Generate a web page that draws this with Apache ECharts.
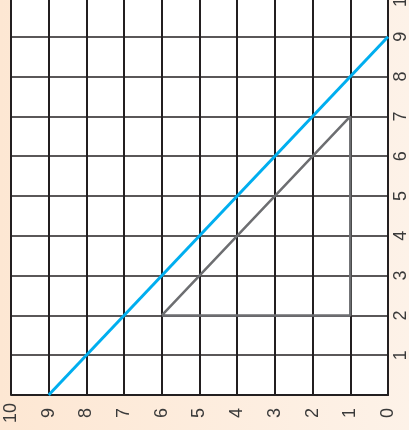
<!DOCTYPE html>
<html>
<head>
<meta charset="utf-8">
<script src="https://cdn.jsdelivr.net/npm/echarts@6/dist/echarts.min.js"></script>
<style>
html,body{margin:0;padding:0;}
#c{width:409px;height:430px;}
</style>
</head>
<body>
<div id="c"></div>
<script>
// Data
const xTicks = [0, 1, 2, 3, 4, 5, 6, 7, 8, 9, 10];
const yTicks = [0, 1, 2, 3, 4, 5, 6, 7, 8, 9, 10];
const blueX = [9, 0];
const blueY = [0, 9];
const triangleX = [6, 1, 1, 6];
const triangleY = [2, 2, 7, 2];

const zip = (xs, ys) => xs.map((x, i) => [x, ys[i]]);

const chart = echarts.init(document.getElementById('c'), null, {renderer: 'canvas'});
const labelFont = {
  fontFamily: '"Liberation Sans", Arial, Helvetica, sans-serif',
  fontSize: 18,
  fontWeight: 'normal',
  color: '#3a3a3a',
  rotate: 90,
  align: 'center',
  verticalAlign: 'middle'
};
chart.setOption({
  animation: false,
  backgroundColor: {
    type: 'linear', x: 0, y: 0, x2: 1, y2: 0,
    colorStops: [{offset: 0, color: '#fde7d3'}, {offset: 1, color: '#fdf2e8'}]
  },
  grid: {
    left: 11, right: 21, top: -3, bottom: 35,
    outerBoundsMode: 'none', containLabel: false,
    show: true, backgroundColor: '#ffffff', borderWidth: 0
  },
  xAxis: {
    type: 'value', inverse: true,
    min: xTicks[0], max: xTicks[xTicks.length - 1], interval: 1,
    axisLine: {show: true, onZero: false, lineStyle: {color: '#231f20', width: 2}},
    axisTick: {show: false},
    splitLine: {show: true, lineStyle: {color: '#231f20', width: 2}},
    axisLabel: Object.assign({margin: 18, showMinLabel: true, showMaxLabel: true}, labelFont)
  },
  yAxis: {
    type: 'value', position: 'right',
    min: yTicks[0], max: yTicks[yTicks.length - 1], interval: 1,
    axisLine: {show: true, onZero: false, lineStyle: {color: '#231f20', width: 2}},
    axisTick: {show: false},
    splitLine: {show: true, lineStyle: {color: '#231f20', width: 1.5}},
    axisLabel: Object.assign({
      margin: 13, showMaxLabel: true,
      formatter: v => (v === 0 ? '' : String(v))
    }, labelFont)
  },
  series: [
    {
      type: 'line', data: zip(triangleX, triangleY),
      symbol: 'none', lineStyle: {color: '#6d6e71', width: 2.5}, z: 3
    },
    {
      type: 'line', data: zip(blueX, blueY),
      symbol: 'none', lineStyle: {color: '#00aeef', width: 3}, z: 4
    }
  ]
});
</script>
</body>
</html>
